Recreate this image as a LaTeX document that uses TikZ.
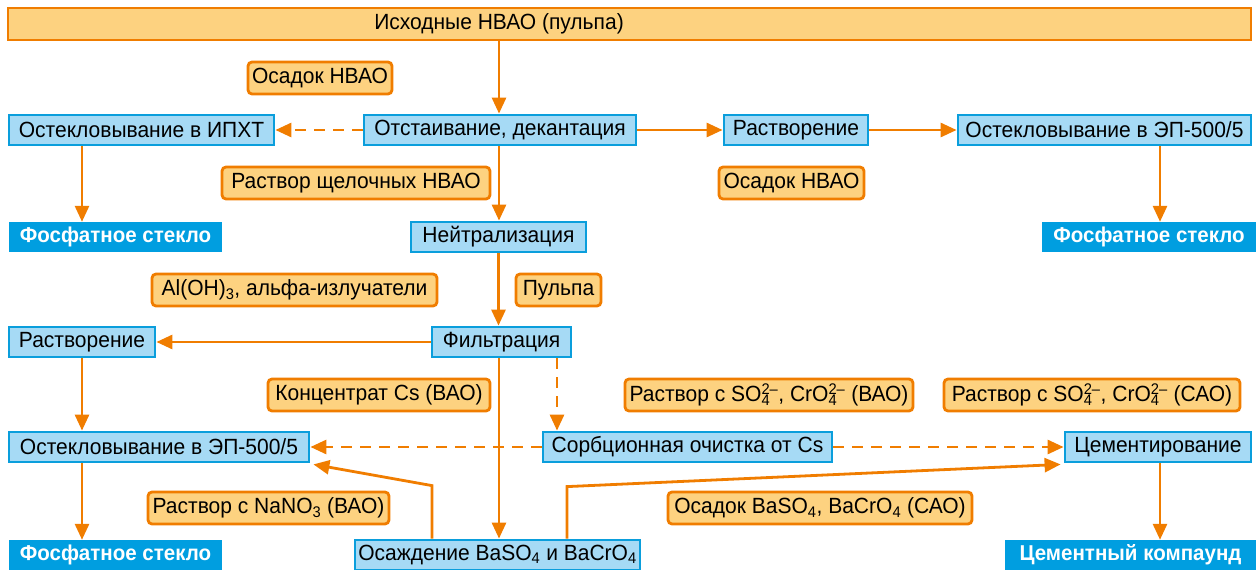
\documentclass[tikz,border=0pt]{standalone}
\usepackage{fontspec}
\setmainfont{Liberation Sans}[FakeStretch=0.955]
\usetikzlibrary{arrows.meta,calc}
\definecolor{lorange}{RGB}{240,125,0}
\definecolor{pfill}{RGB}{166,218,245}
\definecolor{pborder}{RGB}{10,158,220}
\definecolor{lfill}{RGB}{253,210,128}
\definecolor{rfill}{RGB}{0,158,224}
\newcommand\ionx[2]{\makebox[0pt][l]{\textsubscript{#1}}\textsuperscript{#2}}
\begin{document}
\begin{tikzpicture}[x=1pt,y=-1pt, font=\fontsize{22}{26}\selectfont,
 proc/.style={draw=pborder, fill=pfill, line width=2.8pt, minimum height=30pt, inner sep=0pt},
 res/.style={fill=rfill, text=white, font=\fontsize{21.5}{26}\selectfont\bfseries, minimum height=30pt, inner sep=0pt},
 lab/.style={draw=lorange, fill=lfill, line width=2.8pt, rounded corners=4pt, minimum height=32pt, inner sep=0pt},
 arr/.style={draw=lorange, line width=2.8pt, -{Triangle[length=16pt,width=14pt]}},
 darr/.style={arr, dash pattern=on 11pt off 8pt},
]
\useasboundingbox (0,0) rectangle (1256,570);
% top bar
\node[draw=lorange, fill=lfill, line width=2.8pt, minimum width=1243pt, minimum height=32pt, inner sep=0pt] (top) at (629.5,24) {};
\node[inner sep=0pt] (toptext) at (499,24) {Исходные НВАО (пульпа)};
% process boxes
\node[proc, minimum width=265pt] (ipxt) at (141.5,130) {Остекловывание в ИПХТ};
\node[proc, minimum width=272pt] (ots) at (500,130) {Отстаивание, декантация};
\node[proc, minimum width=144pt] (rastv1) at (796,130) {Растворение};
\node[proc, minimum width=293pt] (ep1) at (1104.5,130) {Остекловывание в ЭП-500/5};
\node[proc, minimum width=175pt] (neutr) at (498.5,237) {Нейтрализация};
\node[proc, minimum width=139pt] (filt) at (501.5,342) {Фильтрация};
\node[proc, minimum width=146pt] (rastv2) at (82,342) {Растворение};
\node[proc, minimum width=300pt] (ep2) at (159,447) {Остекловывание в ЭП-500/5};
\node[proc, minimum width=289pt] (sorb) at (687.5,447) {Сорбционная очистка от Cs};
\node[proc, minimum width=186pt] (cem) at (1158,447) {Цементирование};
\node[proc, minimum width=285pt] (osazh) at (497.5,555) {Осаждение BaSO\textsubscript{4} и BaCrO\textsubscript{4}};
% results
\node[res, minimum width=213pt] (fos1) at (115.5,237) {Фосфатное стекло};
\node[res, minimum width=214pt] (fos2) at (1149,237) {Фосфатное стекло};
\node[res, minimum width=213pt] (fos3) at (115.5,555) {Фосфатное стекло};
\node[res, minimum width=251pt] (cemk) at (1130.5,555) {Цементный компаунд};
% labels
\node[lab, minimum width=144pt] (lab1) at (320,78) {Осадок НВАО};
\node[lab, minimum width=268pt] (lab2) at (356,183) {Раствор щелочных НВАО};
\node[lab, minimum width=145pt] (lab3) at (791.5,183) {Осадок НВАО};
\node[lab, minimum width=285pt] (lab4) at (294.5,290) {Al(OH)\textsubscript{3}, альфа-излучатели};
\node[lab, minimum width=85pt] (lab5) at (558.5,290) {Пульпа};
\node[lab, minimum width=222pt] (lab6) at (379,395) {Концентрат Cs (ВАО)};
\node[lab, minimum width=288pt] (lab7) at (769,395) {Раствор с SO\ionx{4}{2–}, CrO\ionx{4}{2–} (ВАО)};
\node[lab, minimum width=296pt] (lab8) at (1092,395) {Раствор с SO\ionx{4}{2–}, CrO\ionx{4}{2–} (САО)};
\node[lab, minimum width=241pt] (lab9) at (268.5,508) {Раствор с NaNO\textsubscript{3} (ВАО)};
\node[lab, minimum width=304pt] (lab10) at (820,508) {Осадок BaSO\textsubscript{4}, BaCrO\textsubscript{4} (САО)};
% connectors
\draw[arr] (toptext.south |- top.south) -- (toptext.south |- ots.north);
\draw[darr] (ots.west) -- (ipxt.east);
\draw[arr] (ots.east) -- (rastv1.west);
\draw[arr] (rastv1.east) -- (ep1.west);
\draw[arr] ([xshift=55.5pt]ep1.south) -- ([xshift=55.5pt]ep1.south |- fos2.north);
\draw[arr] ([xshift=-59.5pt]ipxt.south) -- ([xshift=-59.5pt]ipxt.south |- fos1.north);
\draw[arr] ([xshift=-1pt]ots.south) -- ([xshift=-1pt]ots.south |- neutr.north);
\draw[arr] (neutr.south) -- (neutr.south |- filt.north);
\draw[arr] (filt.west) -- (rastv2.east);
\draw[arr] (rastv2.south) -- (rastv2.south |- ep2.north);
\draw[arr] ([xshift=-77pt]ep2.south) -- ([xshift=-77pt]ep2.south |- fos3.north);
\draw[darr] ([xshift=55.5pt]filt.south) -- ([xshift=55.5pt]filt.south |- sorb.north);
\draw[darr] (sorb.west) -- (ep2.east);
\draw[darr] (sorb.east) -- (cem.west);
\draw[arr] ([xshift=-2.5pt]filt.south) -- ([xshift=-2.5pt]filt.south |- osazh.north);
\draw[arr] ([xshift=-65.5pt]osazh.north) -- ++(0,-53) -- ([xshift=3pt,yshift=-1pt]ep2.south east);
\draw[arr] ([xshift=69.5pt]osazh.north) -- ++(0,-52) -- ([xshift=-3pt,yshift=-1pt]cem.south west);
\draw[arr] ([xshift=2pt]cem.south) -- ([xshift=2pt]cem.south |- cemk.north);
\end{tikzpicture}
\end{document}
